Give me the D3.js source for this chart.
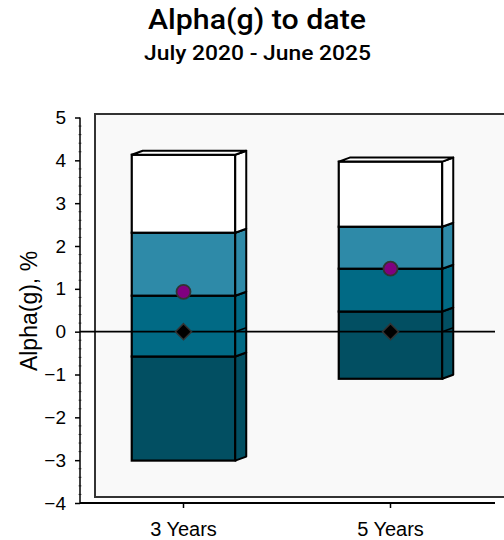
<!DOCTYPE html>
<html><head><meta charset="utf-8">
<script src="https://cdn.jsdelivr.net/npm/d3@7"></script>
<style>body{margin:0;background:#fff}</style>
</head><body>
<svg id="c" width="504" height="540"></svg>
<script>
const categories = ["3 Years", "5 Years"];
const pct5  = [-3.01, -1.10];
const pct25 = [-0.58, 0.47];
const pct50 = [0.84, 1.47];
const pct75 = [2.31, 2.45];
const pct95 = [4.13, 3.97];
const portfolio = [0.93, 1.47];
const benchmark = [0, 0];
const yTicks = [5,4,3,2,1,0,-1,-2,-3,-4];
const segColors = ["#024f62", "#016a85", "#2e8aa8", "#ffffff"];

const svg = d3.select("#c");
const y = d3.scaleLinear().domain([-4,5]).range([503,117.5]);
const x = d3.scaleBand().domain(categories).range([80,494]).paddingInner(0.5).paddingOuter(0.25);
const dx = 11, dy = -4;

// titles
svg.append("text").attr("x",257).attr("y",29).attr("text-anchor","middle")
  .attr("font-family","Roboto, Liberation Sans, sans-serif").attr("font-weight",500)
  .attr("font-size",27).attr("textLength",218).attr("lengthAdjust","spacingAndGlyphs").text("Alpha(g) to date");
svg.append("text").attr("x",257.5).attr("y",60).attr("text-anchor","middle")
  .attr("font-family","Roboto, Liberation Sans, sans-serif").attr("font-weight",500)
  .attr("font-size",20.5).attr("textLength",227).attr("lengthAdjust","spacingAndGlyphs").text("July 2020 - June 2025");

// plot background box
svg.append("rect").attr("x",95).attr("y",114).attr("width",430).attr("height",383)
  .attr("fill","#f9f9f9").attr("stroke","#333").attr("stroke-width",2);

// y axis
const yAxis = d3.axisLeft(y).tickValues(yTicks).tickSize(5).tickFormat(d3.format("d"));
const gy = svg.append("g").attr("transform","translate(80,0)").call(yAxis);
gy.select(".domain").attr("stroke","#000").attr("stroke-width",1.5).attr("d","M0,117.5V503");
gy.selectAll(".tick line").attr("stroke","#000").attr("stroke-width",1.5);
gy.selectAll(".tick text").attr("font-family","Liberation Sans, Arial, sans-serif")
  .attr("font-size",19).attr("fill","#000").attr("x",-14);
// minor ticks
const minor = d3.range(-4,5.0001,0.2).filter(v=>Math.abs(v-Math.round(v))>1e-6);
svg.append("g").selectAll("line").data(minor).join("line")
  .attr("x1",78.5).attr("x2",81.5).attr("y1",d=>y(d)).attr("y2",d=>y(d))
  .attr("stroke","#000").attr("stroke-width",0.6);

svg.append("text").attr("transform","translate(37,311) rotate(-90)").attr("text-anchor","middle")
  .attr("font-family","Liberation Sans, Arial, sans-serif").attr("font-size",23).text("Alpha(g), %");

// x axis
const xAxis = d3.axisBottom(x).tickSize(5);
const gx = svg.append("g").attr("transform","translate(0,503)").call(xAxis);
gx.select(".domain").attr("stroke","#000").attr("stroke-width",2).attr("d","M80,0H495");
gx.selectAll(".tick line").attr("stroke","#000").attr("stroke-width",1.5);
gx.selectAll(".tick text").attr("font-family","Liberation Sans, Arial, sans-serif")
  .attr("font-size",20).attr("fill","#000").attr("dy",0).attr("y",33);

// bars
categories.forEach((c,i)=>{
  const b = [pct5[i],pct25[i],pct50[i],pct75[i],pct95[i]];
  const x0 = x(c), x1 = x(c)+x.bandwidth();
  const g = svg.append("g");
  for(let k=0;k<4;k++){
    const yb = y(b[k]), yt = y(b[k+1]);
    g.append("rect").attr("x",x0).attr("y",yt).attr("width",x1-x0).attr("height",yb-yt)
      .attr("fill",segColors[k]).attr("stroke","#000").attr("stroke-width",2.2);
    g.append("path").attr("d",`M${x1},${yb}L${x1+dx},${yb+dy}L${x1+dx},${yt+dy}L${x1},${yt}Z`)
      .attr("fill",segColors[k]).attr("stroke","#000").attr("stroke-width",2).attr("stroke-linejoin","round");
  }
  const yt = y(b[4]);
  g.append("path").attr("d",`M${x0},${yt}L${x0+dx},${yt+dy}L${x1+dx},${yt+dy}L${x1},${yt}Z`)
    .attr("fill","#fff").attr("stroke","#000").attr("stroke-width",2).attr("stroke-linejoin","round");
});

// zero line
svg.append("line").attr("x1",80).attr("x2",495).attr("y1",y(0)).attr("y2",y(0))
  .attr("stroke","#000").attr("stroke-width",1.6);
categories.forEach((c,i)=>{
  const x1 = x(c)+x.bandwidth();
  svg.append("path").attr("d",`M${x1},${y(0)}L${x1+dx},${y(0)+dy}`).attr("stroke","#000").attr("stroke-width",1.6);
});

// markers
svg.append("g").selectAll("circle").data(categories).join("circle")
  .attr("cx",c=>x(c)+x.bandwidth()/2).attr("cy",(c,i)=>y(portfolio[i])).attr("r",7)
  .attr("fill","#800080").attr("stroke","#333").attr("stroke-width",1.8);
svg.append("g").selectAll("path").data(categories).join("path")
  .attr("transform",(c,i)=>`translate(${x(c)+x.bandwidth()/2},${y(benchmark[i])})`)
  .attr("d","M0,-8L8,0L0,8L-8,0Z").attr("fill","#000").attr("stroke","#333").attr("stroke-width",1.5);
</script>
</body></html>
